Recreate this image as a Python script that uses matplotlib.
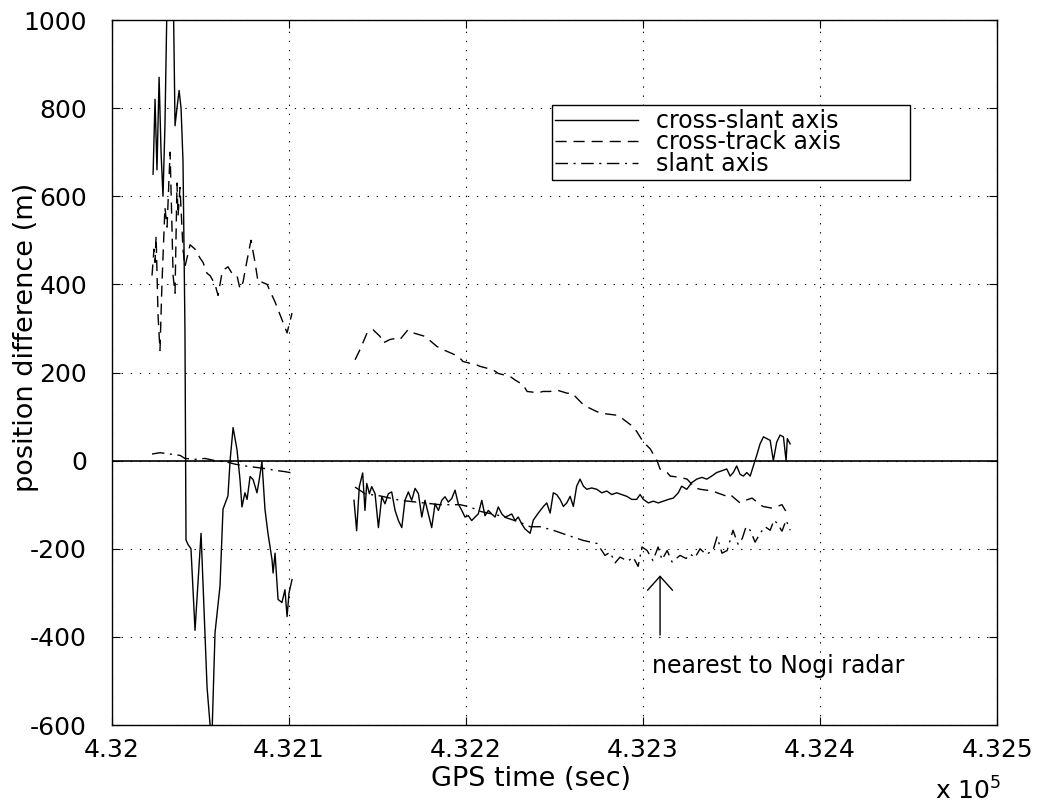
import numpy as np
import matplotlib.pyplot as plt

T0 = 432000.0

# cross-slant axis (solid), two passes
t_cs1 = [23.2, 24.3, 25.4, 26.6, 27.7, 28.8, 29.9, 31.1, 32.8, 34.5, 35.6, 36.7,
         37.9, 39.0, 40.1, 41.2, 41.8, 42.9, 44.6, 46.9, 50.3, 53.7, 55.4, 56.5,
         58.2, 61.0, 62.7, 65.5, 66.7, 68.4, 70.6, 72.3, 73.4, 75.1, 76.3, 78.0,
         79.7, 81.9, 83.1, 84.7, 86.4, 88.1, 90.4, 91.0, 92.1, 93.8, 96.0, 97.7,
         98.9, 100.0, 101.7]
cs1 = [650, 820, 660, 870, 700, 600, 760, 1050, 1100, 1100, 760, 800,
       840, 800, 680, 300, -180, -190, -200, -385, -165, -515, -600, -620,
       -390, -285, -110, -80, 0, 75, 25, -43, -105, -73, -88, -36,
       -43, -73, -45, -2, -110, -165, -225, -255, -210, -315, -322, -293,
       -354, -300, -270]
t_cs2 = [136.7, 138.2, 139.7, 141.6, 142.9, 143.9, 145.4, 146.7, 148.6, 150.5,
         152.4, 154.2, 156.1, 158.0, 159.9, 161.8, 163.7, 165.5, 167.4, 169.3,
         171.2, 173.1, 175.0, 176.8, 178.7, 180.6, 182.5, 184.4, 186.3, 188.1,
         190.0, 191.9, 193.8, 195.6, 197.6, 199.4, 201.3, 203.2, 205.1, 206.9,
         208.9, 210.7, 212.6, 214.5, 216.4, 218.2, 220.2, 222.0, 223.9, 225.8,
         227.7, 229.5, 231.5, 233.3, 236.2, 238.0, 240.8, 243.7, 245.6, 247.5,
         249.3, 251.2, 253.1, 255.0, 256.9, 258.8, 260.6, 262.5, 264.4, 266.3,
         268.2, 271.0, 273.8, 276.7, 279.5, 282.3, 285.1, 288.0, 290.8, 293.6,
         296.4, 298.3, 300.2, 303.0, 305.8, 308.6, 311.5, 314.3, 317.1, 319.9,
         321.8, 324.7, 327.5, 330.3, 333.2, 336.0, 338.8, 341.6, 344.5, 347.3,
         349.2, 351.0, 352.9, 354.8, 356.7, 358.6, 360.5, 362.3, 364.2, 366.1,
         368.0, 369.9, 371.8, 373.6, 375.5, 377.4, 379.3, 380.8, 381.5, 383.1]
cs2 = [-90, -159, -59, -28, -113, -52, -75, -59, -75, -152,
       -82, -98, -75, -71, -113, -136, -152, -90, -71, -90,
       -63, -75, -128, -90, -121, -152, -98, -113, -90, -82,
       -94, -86, -67, -98, -113, -128, -125, -136, -128, -121,
       -90, -125, -113, -121, -128, -105, -121, -128, -125, -121,
       -136, -128, -144, -155, -165, -135, -119, -104, -96, -119,
       -73, -77, -88, -104, -96, -81, -104, -58, -42, -58,
       -65, -62, -65, -73, -69, -77, -73, -77, -81, -88,
       -88, -77, -88, -96, -92, -96, -92, -88, -85, -73,
       -58, -65, -50, -42, -38, -42, -35, -27, -23, -19,
       -35, -27, -12, -31, -35, -27, -35, -12, 12, 38,
       54, 50, 46, 0, 42, 58, 54, 0, 50, 38]

# cross-track axis (dashed)
t_ct1 = [22.6, 23.7, 24.3, 24.9, 26.0, 27.1, 28.2, 29.9, 31.1, 32.8, 33.9, 34.5,
         35.6, 36.7, 37.3, 38.4, 39.5, 40.1, 41.2, 44.1, 46.9, 49.7, 51.4, 53.7,
         55.4, 58.2, 59.9, 62.1, 63.8, 65.5, 67.8, 70.6, 72.3, 74.0, 76.3, 78.5,
         80.8, 82.5, 84.7, 87.6, 90.4, 92.1, 96.0, 98.9, 101.7]
ct1 = [420, 480, 450, 510, 330, 250, 400, 575, 530, 700, 525, 420,
       380, 630, 555, 620, 530, 480, 440, 490, 480, 460, 450, 425,
       420, 400, 375, 425, 435, 440, 425, 420, 390, 405, 455, 500,
       450, 405, 405, 400, 375, 360, 320, 290, 335]
t_ct2 = [137.3, 140.1, 144.1, 147.5, 151.4, 153.1, 157.1, 161.0, 162.7, 167.2,
         170.1, 176.8, 183.6, 187.0, 195.5, 198.3, 206.2, 207.9, 215.3, 218.1,
         224.9, 227.7, 232.2, 234.5, 240.7, 243.5, 247.5, 251.4, 257.1, 259.9,
         265.5, 268.4, 274.0, 277.4, 285.3, 288.1, 294.4, 296.6, 300.0, 304.0,
         307.9, 309.6, 313.6, 315.3, 320.9, 324.9, 329.4, 332.2, 339.5, 341.8,
         347.5, 349.2, 354.8, 356.5, 361.6, 366.1, 367.8, 372.9, 378.5, 380.2,
         383.1]
ct2 = [229, 252, 290, 297, 282, 267, 275, 278, 275, 297,
       290, 282, 259, 252, 237, 225, 217, 214, 206, 198,
       191, 183, 172, 157, 154, 157, 157, 160, 153, 153,
       130, 122, 111, 107, 103, 96, 77, 65, 43, 27,
       0, -19, -27, -35, -38, -42, -62, -65, -69, -73,
       -81, -77, -96, -92, -85, -100, -104, -108, -100, -112,
       -119]

# slant axis (dash-dot)
t_sl1 = [22.6, 27.1, 32.8, 38.4, 41.2, 46.9, 52.5, 58.2, 63.8, 69.5, 75.1, 80.8,
         86.4, 92.1, 97.7, 101.7]
sl1 = [15, 18, 15, 12, 5, 3, 5, 0, -2, -8, -12, -15, -18, -22, -25, -28]
t_sl2 = [137.3, 142.9, 151.4, 162.7, 174.0, 185.3, 196.6, 202.3, 207.9, 219.2,
         230.5, 236.2, 241.8, 249.2, 257.1, 266.1, 274.0, 278.5, 281.4, 284.2,
         287.0, 291.5, 294.4, 297.2, 299.4, 302.3, 305.6, 308.5, 310.7, 313.6,
         316.4, 320.9, 324.3, 326.6, 329.4, 332.2, 335.6, 339.5, 341.8, 344.6,
         347.5, 350.8, 353.7, 356.0, 358.2, 360.5, 363.3, 366.1, 368.9, 371.8,
         374.0, 375.7, 378.5, 380.8, 383.1]
sl2 = [-60, -75, -80, -90, -95, -100, -100, -105, -115, -125,
       -140, -150, -150, -158, -169, -181, -188, -215, -208, -232,
       -219, -228, -219, -240, -196, -204, -227, -196, -225, -204,
       -230, -215, -222, -212, -220, -200, -213, -204, -173, -210,
       -204, -158, -190, -177, -150, -158, -185, -165, -150, -158,
       -135, -142, -160, -135, -158]


def join(ta, va, tb, vb):
    # two passes with a gap between them
    t = np.concatenate([T0 + np.array(ta), [np.nan], T0 + np.array(tb)])
    v = np.concatenate([np.array(va, float), [np.nan], np.array(vb, float)])
    return t, v


plt.rcParams['font.size'] = 18
plt.rcParams['axes.unicode_minus'] = False

fig = plt.figure(figsize=(10.42, 8.07), dpi=100)
ax = fig.add_axes([0.1075, 0.1016, 0.8494, 0.8736])

t, v = join(t_cs1, cs1, t_cs2, cs2)
ax.plot(t, v, color='k', lw=1.0, ls='-', label='cross-slant axis')
t, v = join(t_ct1, ct1, t_ct2, ct2)
ax.plot(t, v, color='k', lw=1.0, ls=(0, (8, 5)), label='cross-track axis')
t, v = join(t_sl1, sl1, t_sl2, sl2)
ax.plot(t, v, color='k', lw=1.0, ls=(0, (9, 4, 1.5, 4)), label='slant axis')
ax.axhline(0, color='k', lw=1.2)

ax.set_xlim(432000, 432500)
ax.set_ylim(-600, 1000)
ax.set_xticks([432000, 432100, 432200, 432300, 432400, 432500])
ax.set_xticklabels(['4.32', '4.321', '4.322', '4.323', '4.324', '4.325'])
ax.set_yticks(range(-600, 1001, 200))
ax.tick_params(direction='in', top=True, right=True, length=6, width=0.8)
ax.tick_params(axis='x', pad=9)
ax.tick_params(axis='y', pad=18)
ax.grid(True, color='k', lw=0.8, ls=(0, (1.2, 7)))
for s in ax.spines.values():
    s.set_linewidth(1.0)

ax.set_xlabel('GPS time (sec)', fontsize=19.5)
ax.xaxis.set_label_coords(0.473, -0.058)
ax.set_ylabel('position difference (m)', fontsize=19.5)
ax.yaxis.set_label_coords(-0.083, 0.55)
ax.text(0.930, -0.106, 'x 10$^5$', transform=ax.transAxes, ha='left', va='baseline')

ax.annotate('', xy=(432309.6, -254), xytext=(432309.6, -402),
            arrowprops=dict(arrowstyle='->,head_length=0.5,head_width=0.45',
                            color='k', lw=1.0, mutation_scale=20))
ax.text(432305, -481, 'nearest to Nogi radar', fontsize=17, ha='left', va='baseline')

leg = ax.legend(loc='upper left', bbox_to_anchor=(0.497, 0.791, 0.405, 0.088),
                mode='expand', borderaxespad=0, fontsize=17, handlelength=3.5,
                handletextpad=0.75, labelspacing=-0.1, borderpad=0.15,
                fancybox=False, framealpha=1, edgecolor='k')
leg.get_frame().set_linewidth(1.0)

plt.savefig('out.png', dpi=100)
